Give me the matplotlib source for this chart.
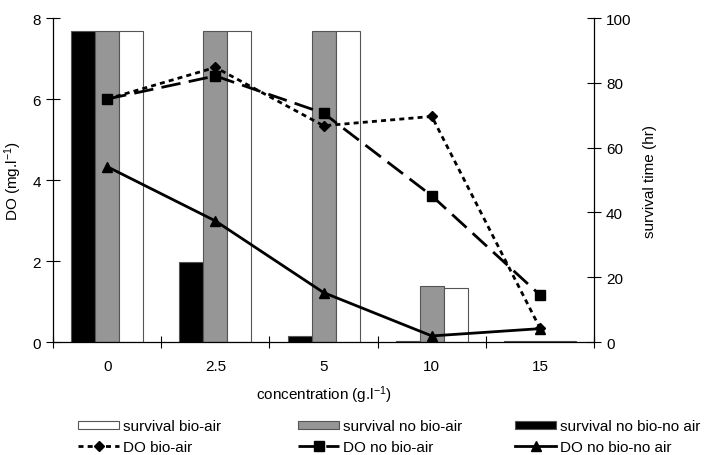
import matplotlib
matplotlib.use("Agg")
import matplotlib.pyplot as plt
import numpy as np

plt.rcParams['font.family'] = ['Liberation Sans', 'DejaVu Sans']
plt.rcParams['font.size'] = 11
plt.rcParams['mathtext.fontset'] = 'custom'
plt.rcParams['mathtext.rm'] = 'Liberation Sans'
plt.rcParams['mathtext.it'] = 'Liberation Sans:italic'

conc_labels = ["0", "2.5", "5", "10", "15"]

# survival time (hr), right axis
surv_bio_air = [96, 96, 96, 16.7, 0.4]
surv_no_bio_air = [96, 96, 96, 17.4, 0.4]
surv_no_bio_no_air = [96, 24.8, 1.7, 0.3, 0.4]

# DO (mg/l), left axis
do_bio_air = [6.0, 6.78, 5.34, 5.57, 0.34]
do_no_bio_air = [6.0, 6.57, 5.65, 3.61, 1.16]
do_no_bio_no_air = [4.33, 2.99, 1.22, 0.15, 0.33]

fig = plt.figure(figsize=(7.09, 4.56), dpi=100)
ax = fig.add_axes([0.0748, 0.2478, 0.7632, 0.7105])
ax2 = ax.twinx()

x = np.arange(len(conc_labels))
width = 0.222
edge = '#555555'
b3 = ax2.bar(x - width, surv_no_bio_no_air, width, color='black', edgecolor=edge, linewidth=0.8,
             label='survival no bio-no air')
b2 = ax2.bar(x, surv_no_bio_air, width, color='#969696', edgecolor=edge, linewidth=0.8,
             label='survival no bio-air')
b1 = ax2.bar(x + width, surv_bio_air, width, color='white', edgecolor=edge, linewidth=0.8,
             label='survival bio-air')

l1, = ax.plot(x, do_bio_air, color='black', lw=2, dashes=(1.8, 1.5), marker='D', markersize=5.5,
              label='DO bio-air')
l2, = ax.plot(x, do_no_bio_air, color='black', lw=2, dashes=(7, 3), marker='s', markersize=7,
              label='DO no bio-air')
l3, = ax.plot(x, do_no_bio_no_air, color='black', lw=2, marker='^', markersize=7,
              label='DO no bio-no air')

# lines above bars
ax.set_zorder(ax2.get_zorder() + 1)
ax.patch.set_visible(False)

ax.set_xlim(-0.5, 4.5)
ax.set_ylim(0, 8)
ax2.set_ylim(0, 100)
ax.set_yticks([0, 2, 4, 6, 8])
ax2.set_yticks([0, 20, 40, 60, 80, 100])
ax.set_xticks(x)
ax.set_xticklabels(conc_labels)
ax.set_xticks(np.arange(-0.5, 5, 1), minor=True)
ax.tick_params(axis='x', which='major', length=0, pad=12)
ax.tick_params(axis='x', which='minor', direction='inout', length=9, width=0.8)
ax.tick_params(axis='y', direction='inout', length=10, width=0.8)
ax2.tick_params(axis='y', direction='inout', length=10, width=0.8)

for a in (ax, ax2):
    a.spines['top'].set_visible(False)
    for s in a.spines.values():
        s.set_linewidth(0.9)
ax.spines['right'].set_visible(False)
ax2.spines['left'].set_visible(False)
ax2.spines['bottom'].set_visible(False)

ax.set_ylabel('DO (mg.l$^{-1}$)', labelpad=6)
ax2.set_ylabel('survival time (hr)', labelpad=8)
ax.set_xlabel('concentration (g.l$^{-1}$)', labelpad=8)

cols = [(b1, l1, 78), (b2, l2, 298), (b3, l3, 515)]
for bar_h, line_h, px in cols:
    leg = fig.legend([bar_h, line_h], [bar_h.get_label(), line_h.get_label()],
                     loc='center left', bbox_to_anchor=(px / 709, 1 - 437.5 / 456),
                     frameon=False, borderpad=0, borderaxespad=0, handlelength=2.7,
                     handletextpad=0.25, labelspacing=0.42, handleheight=0.5)

plt.savefig('out.png', dpi=100)
